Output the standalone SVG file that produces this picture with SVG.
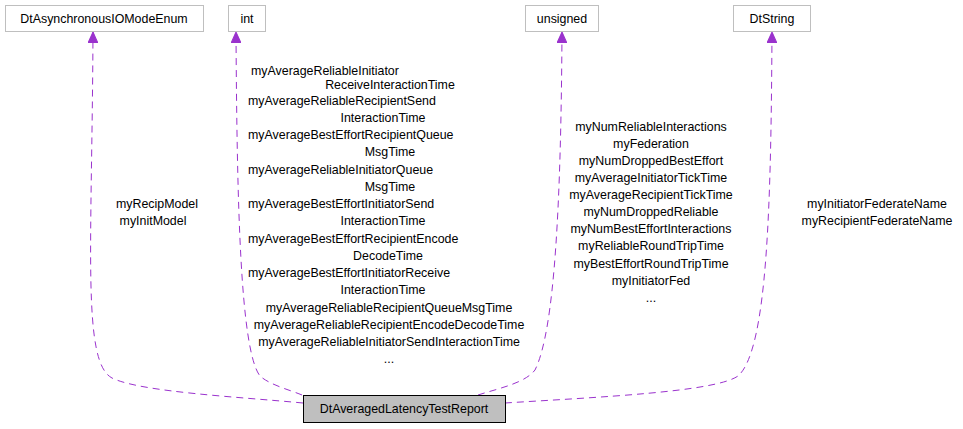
<svg xmlns="http://www.w3.org/2000/svg" width="963" height="429" viewBox="0 0 963 429">
<style>
text{font-family:"Liberation Sans",Arial,sans-serif;font-size:12.4px;fill:#000}
.n rect{fill:#fff;stroke:#bfbfbf}
.e{fill:none;stroke:#9a32cd;stroke-dasharray:7,5}
.m{text-anchor:middle}
</style>
<defs><marker id="a" markerWidth="12" markerHeight="10" refX="11" refY="5" orient="auto" markerUnits="userSpaceOnUse"><path d="M0,0L11,5L0,10z" fill="#9a32cd" stroke="#9a32cd"/></marker></defs>
<rect width="963" height="429" fill="#fff"/>
<g id="edges">
<path class="e" marker-end="url(#a)" d="M303,403C240,397 140,392 112,378C82,362 92,250 93,32"/>
<path class="e" marker-end="url(#a)" d="M302,395C290,390 270,385 260,376C240,350 237,200 236,32"/>
<path class="e" marker-end="url(#a)" d="M478,395C500,388 525,383 535,370C555,330 561,200 562,32"/>
<path class="e" marker-end="url(#a)" d="M505,403C600,397 715,392 738,376C768,350 771,200 772,32"/>
</g>
<g id="DtAsynchronousIOModeEnum" class="n"><rect x="5.5" y="5.5" width="198" height="26"/><text class="m" x="104" y="23">DtAsynchronousIOModeEnum</text></g>
<g id="int" class="n"><rect x="228.5" y="5.5" width="37" height="26"/><text class="m" x="247" y="23">int</text></g>
<g id="unsigned" class="n"><rect x="525.5" y="5.5" width="73" height="26"/><text class="m" x="562" y="23">unsigned</text></g>
<g id="DtString" class="n"><rect x="733.5" y="5.5" width="77" height="26"/><text class="m" x="772" y="23">DtString</text></g>
<g id="DtAveragedLatencyTestReport"><rect x="303.5" y="395.5" width="202" height="27" fill="#bfbfbf" stroke="#000"/><text class="m" x="404" y="413">DtAveragedLatencyTestReport</text></g>
<g id="labels">
<text class="m" x="157" y="208">myRecipModel</text><text class="m" x="153" y="225">myInitModel</text>
<text x="251" y="75">myAverageReliableInitiator</text>
<text class="m" x="390" y="89">ReceiveInteractionTime</text>
<text x="248" y="105">myAverageReliableRecipientSend</text>
<text class="m" x="383" y="122">InteractionTime</text>
<text x="248" y="139">myAverageBestEffortRecipientQueue</text>
<text class="m" x="390" y="156">MsgTime</text>
<text x="248" y="174">myAverageReliableInitiatorQueue</text>
<text class="m" x="390" y="191">MsgTime</text>
<text x="248" y="208">myAverageBestEffortInitiatorSend</text>
<text class="m" x="383" y="225">InteractionTime</text>
<text x="248" y="243">myAverageBestEffortRecipientEncode</text>
<text class="m" x="388" y="260">DecodeTime</text>
<text x="248" y="277">myAverageBestEffortInitiatorReceive</text>
<text class="m" x="383" y="294">InteractionTime</text>
<text class="m" x="389" y="312">myAverageReliableRecipientQueueMsgTime</text>
<text class="m" x="389" y="329">myAverageReliableRecipientEncodeDecodeTime</text>
<text class="m" x="389" y="346">myAverageReliableInitiatorSendInteractionTime</text>
<text class="m" x="389" y="363">...</text>
<text class="m" x="651" y="131">myNumReliableInteractions</text>
<text class="m" x="651" y="148">myFederation</text>
<text class="m" x="651" y="165">myNumDroppedBestEffort</text>
<text class="m" x="651" y="182">myAverageInitiatorTickTime</text>
<text class="m" x="651" y="199">myAverageRecipientTickTime</text>
<text class="m" x="651" y="216">myNumDroppedReliable</text>
<text class="m" x="651" y="233">myNumBestEffortInteractions</text>
<text class="m" x="651" y="250">myReliableRoundTripTime</text>
<text class="m" x="651" y="268">myBestEffortRoundTripTime</text>
<text class="m" x="651" y="285">myInitiatorFed</text>
<text class="m" x="651" y="302">...</text>
<text class="m" x="877" y="208">myInitiatorFederateName</text>
<text class="m" x="877" y="225">myRecipientFederateName</text>
</g>
</svg>
